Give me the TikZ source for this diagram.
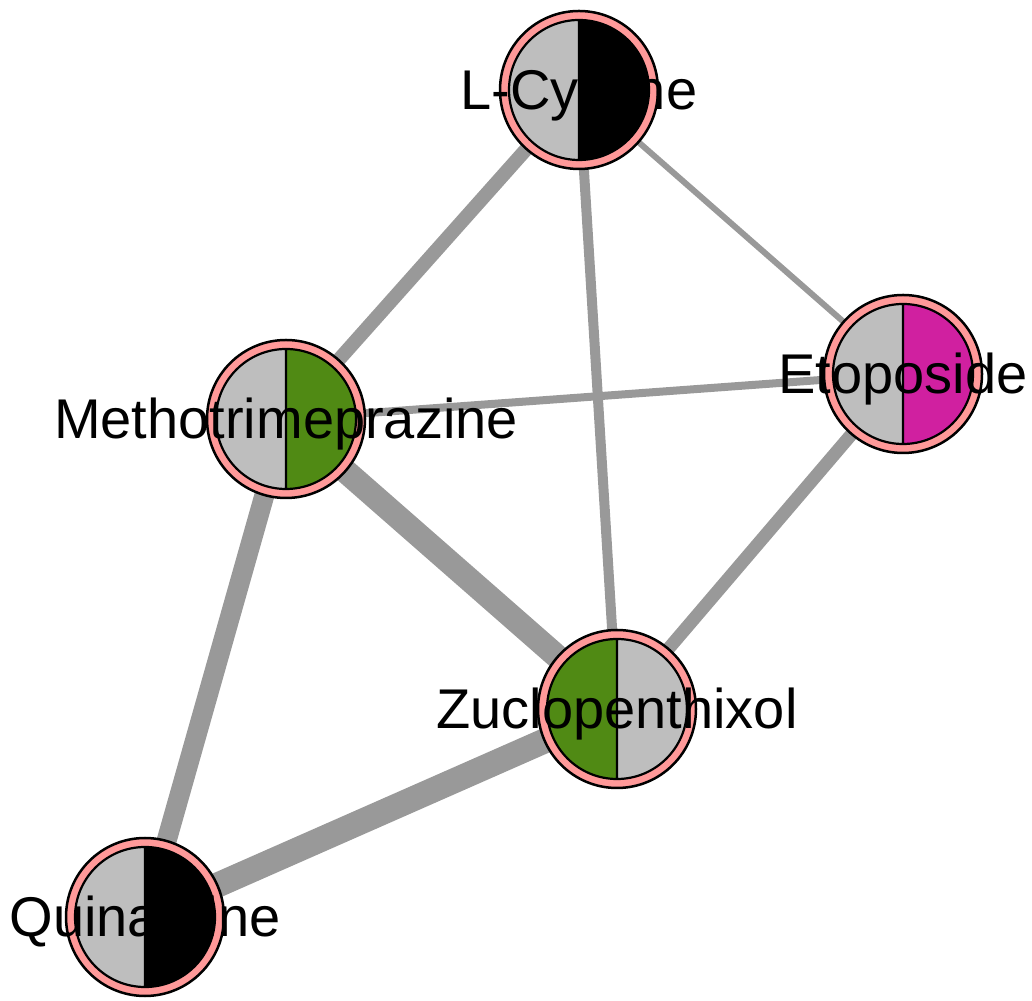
\documentclass[tikz,border=0pt]{standalone}
\usepackage{fontspec}
\setmainfont{Liberation Sans}
\usepackage{tikz}
\usetikzlibrary{calc}
\definecolor{drug-pink}{RGB}{255, 153, 153}
\definecolor{drug-gray}{RGB}{190, 190, 190}
\definecolor{drug-green}{RGB}{80, 138, 20}
\definecolor{drug-magenta}{RGB}{208, 32, 160}
\definecolor{edge-gray}{RGB}{153, 153, 153}

\begin{document}
\begin{tikzpicture}[x = 0.5pt, y = 0.5pt,
    link/.style = {draw = edge-gray},
    ring/.style = {fill = drug-pink, draw = black, line width = 1.25pt},
    rim/.style = {draw = black, line width = 1.1pt},
    drug/.style = {font = \fontsize{28}{34}\selectfont, anchor = base, inner sep = 0pt}]
          \useasboundingbox (0, 0) rectangle (1032, 1000);

          \coordinate (lcys) at (579, 910);
          \coordinate (meth) at (286, 581);
          \coordinate (etop) at (903, 626);
          \coordinate (zucl) at (617, 291);
          \coordinate (quin) at (145, 83);

          \draw[link, line width = 7pt] (lcys) -- (meth);
          \draw[link, line width = 5pt] (lcys) -- (zucl);
          \draw[link, line width = 3pt] (lcys) -- (etop);
          \draw[link, line width = 4pt] (meth) -- (etop);
          \draw[link, line width = 12pt] (meth) -- (zucl);
          \draw[link, line width = 10pt] (meth) -- (quin);
          \draw[link, line width = 6.5pt] (etop) -- (zucl);
          \draw[link, line width = 12.5pt] (zucl) -- (quin);

          \draw[ring] (lcys) circle (79);
          \fill[drug-gray] ($(lcys) + (0, 70)$) arc (90:270:70) -- cycle;
          \fill[black] ($(lcys) + (0, -70)$) arc (-90:90:70) -- cycle;
          \draw[rim] (lcys) circle (70) ($(lcys) + (0, 70)$) -- ($(lcys) + (0, -70)$);

          \draw[ring] (meth) circle (79);
          \fill[drug-gray] ($(meth) + (0, 70)$) arc (90:270:70) -- cycle;
          \fill[drug-green] ($(meth) + (0, -70)$) arc (-90:90:70) -- cycle;
          \draw[rim] (meth) circle (70) ($(meth) + (0, 70)$) -- ($(meth) + (0, -70)$);

          \draw[ring] (etop) circle (79);
          \fill[drug-gray] ($(etop) + (0, 70)$) arc (90:270:70) -- cycle;
          \fill[drug-magenta] ($(etop) + (0, -70)$) arc (-90:90:70) -- cycle;
          \draw[rim] (etop) circle (70) ($(etop) + (0, 70)$) -- ($(etop) + (0, -70)$);

          \draw[ring] (zucl) circle (79);
          \fill[drug-green] ($(zucl) + (0, 70)$) arc (90:270:70) -- cycle;
          \fill[drug-gray] ($(zucl) + (0, -70)$) arc (-90:90:70) -- cycle;
          \draw[rim] (zucl) circle (70) ($(zucl) + (0, 70)$) -- ($(zucl) + (0, -70)$);

          \draw[ring] (quin) circle (79);
          \fill[drug-gray] ($(quin) + (0, 70)$) arc (90:270:70) -- cycle;
          \fill[black] ($(quin) + (0, -70)$) arc (-90:90:70) -- cycle;
          \draw[rim] (quin) circle (70) ($(quin) + (0, 70)$) -- ($(quin) + (0, -70)$);

          \node[drug] (lcys-label) at ($(lcys) + (0, -20)$) {L-Cystine};
          \node[drug] (meth-label) at ($(meth) + (0, -20)$) {Methotrimeprazine};
          \node[drug] (etop-label) at ($(etop) + (0, -20)$) {Etoposide};
          \node[drug] (zucl-label) at ($(zucl) + (0, -20)$) {Zuclopenthixol};
          \node[drug] (quin-label) at ($(quin) + (0, -20)$) {Quinacrine};
        \end{tikzpicture}
\end{document}
